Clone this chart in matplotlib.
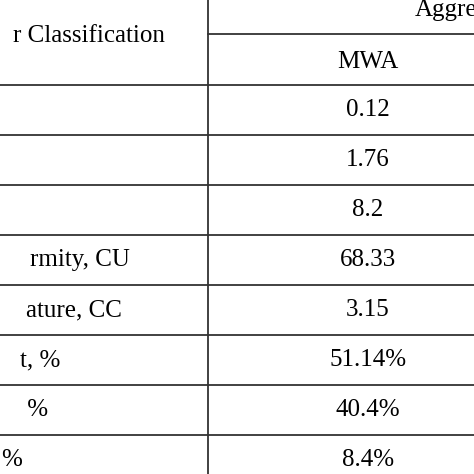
import matplotlib.pyplot as plt

plt.rcParams['font.family'] = ['Liberation Serif', 'DejaVu Serif']

header_left = "r Classification"
header_top = "Aggre"
column_name = "MWA"
row_labels = ["", "", "", "rmity, CU", "ature, CC", "t, %", " %", "%"]
row_label_ends = [0, 0, 0, 130, 122, 60, 48, 22]
values = ["0.12", "1.76", "8.2", "68.33", "3.15", "51.14%", "40.4%", "8.4%"]

fig = plt.figure(figsize=(4.74, 4.74), dpi=100)
ax = fig.add_axes([0, 0, 1, 1])
ax.set_xlim(0, 474)
ax.set_ylim(474, 0)
ax.axis('off')

col_x = 208
val_x = 368
row_h = 50
first_line = 85
fs = 18
lc = '#333333'

ax.plot([col_x, col_x], [0, 474], color=lc, lw=1.3)
ax.plot([col_x, 474], [34, 34], color=lc, lw=1.3)
for i in range(len(values) + 1):
    y = first_line + i * row_h
    ax.plot([0, 474], [y, y], color=lc, lw=1.3)

ax.text(165, 36, header_left, ha='right', va='center', fontsize=fs)
ax.text(415, 10, header_top, ha='left', va='center', fontsize=fs)
ax.text(val_x, 62, column_name, ha='center', va='center', fontsize=fs)

for i, (lab, xe, v) in enumerate(zip(row_labels, row_label_ends, values)):
    yc = first_line + i * row_h + row_h / 2
    ax.text(val_x, yc, v, ha='center', va='center', fontsize=fs)
    if lab:
        ax.text(xe, yc, lab, ha='right', va='center', fontsize=fs)

fig.savefig('out.png', dpi=100)
